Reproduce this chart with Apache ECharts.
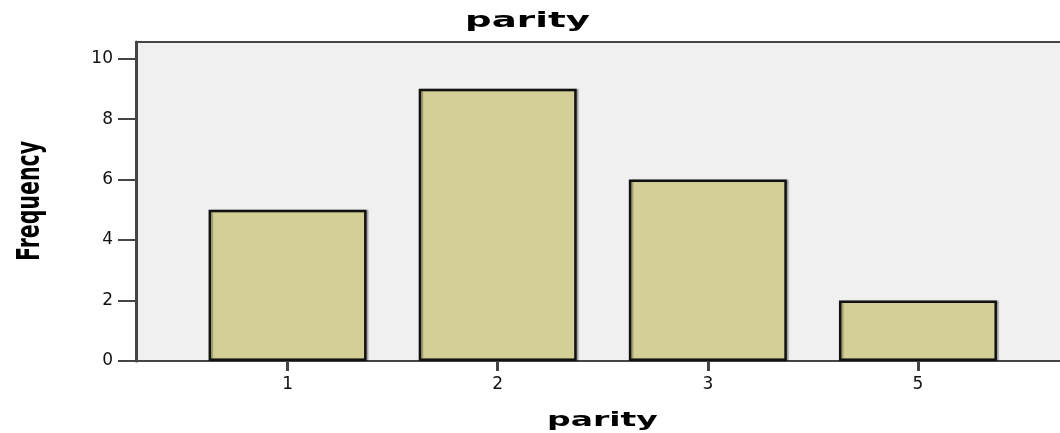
<!DOCTYPE html>
<html>
<head>
<meta charset="utf-8">
<script src="https://cdn.jsdelivr.net/npm/echarts@6/dist/echarts.min.js"></script>
<style>html,body{margin:0;padding:0;background:#fff}#c{width:1060px;height:433px}</style>
</head>
<body>
<div id="c"></div>
<script>
const categories = ['1', '2', '3', '5'];
const frequency = [5, 9, 6, 2];
const yTicks = [0, 2, 4, 6, 8, 10];
const titleText = 'parity';
const xName = 'parity';
const yName = 'Frequency';

const chart = echarts.init(document.getElementById('c'));
const axisColor = '#454545';
const yMax = 10.55;
chart.setOption({
  animation: false,
  grid: [
    { left: 136, top: 42, right: 0, bottom: 72, show: true, backgroundColor: '#f0f0f0', borderWidth: 0 },
    { left: 182.5, top: 42, right: 37, bottom: 72, show: false }
  ],
  xAxis: [
    { gridIndex: 0, type: 'value', min: 0, max: 1, position: 'bottom',
      axisLine: { show: true, onZero: false, lineStyle: { color: axisColor, width: 2 } },
      axisTick: { show: false }, axisLabel: { show: false }, splitLine: { show: false } },
    { gridIndex: 0, type: 'value', min: 0, max: 1, position: 'top',
      axisLine: { show: true, onZero: false, lineStyle: { color: axisColor, width: 2 } },
      axisTick: { show: false }, axisLabel: { show: false }, splitLine: { show: false } },
    { gridIndex: 1, type: 'category', data: categories, position: 'bottom',
      axisLine: { show: false },
      axisTick: { show: true, alignWithLabel: true, length: 10, lineStyle: { color: axisColor, width: 3 } },
      axisLabel: { fontFamily: 'DejaVu Sans', fontSize: 17, color: '#111', margin: 15 },
      splitLine: { show: false } }
  ],
  yAxis: [
    { gridIndex: 0, type: 'value', min: 0, max: yMax, interval: 2,
      axisLine: { show: true, lineStyle: { color: axisColor, width: 3 } },
      axisTick: { show: true, length: 18, customValues: yTicks, lineStyle: { color: axisColor, width: 2 } },
      axisLabel: { customValues: yTicks, fontFamily: 'DejaVu Sans', fontSize: 17, color: '#111', margin: 23 },
      splitLine: { show: false } },
    { gridIndex: 1, type: 'value', min: 0, max: yMax, show: false, splitLine: { show: false } }
  ],
  series: [{
    type: 'bar', xAxisIndex: 2, yAxisIndex: 1, data: frequency, barWidth: 158,
    itemStyle: { color: '#d3cf97', borderColor: '#111', borderWidth: 2.5,
      shadowColor: 'rgba(0,0,0,0.25)', shadowBlur: 1, shadowOffsetX: 2, shadowOffsetY: 0 }
  }],
  graphic: [
    { type: 'text', x: 527.5, y: 21, scaleX: 1.69,
      style: { text: titleText, fontFamily: 'DejaVu Sans', fontWeight: 'bold', fontSize: 22,
        fill: '#000', align: 'center', verticalAlign: 'middle' } },
    { type: 'text', x: 602.5, y: 421, scaleX: 1.65,
      style: { text: xName, fontFamily: 'DejaVu Sans', fontWeight: 'bold', fontSize: 20,
        fill: '#000', align: 'center', verticalAlign: 'middle' } },
    { type: 'text', x: 30, y: 201, rotation: Math.PI / 2, scaleY: 1.6,
      style: { text: yName, fontFamily: 'DejaVu Sans', fontWeight: 'bold', fontSize: 20.5,
        fill: '#000', align: 'center', verticalAlign: 'middle' } }
  ]
});
</script>
</body>
</html>
